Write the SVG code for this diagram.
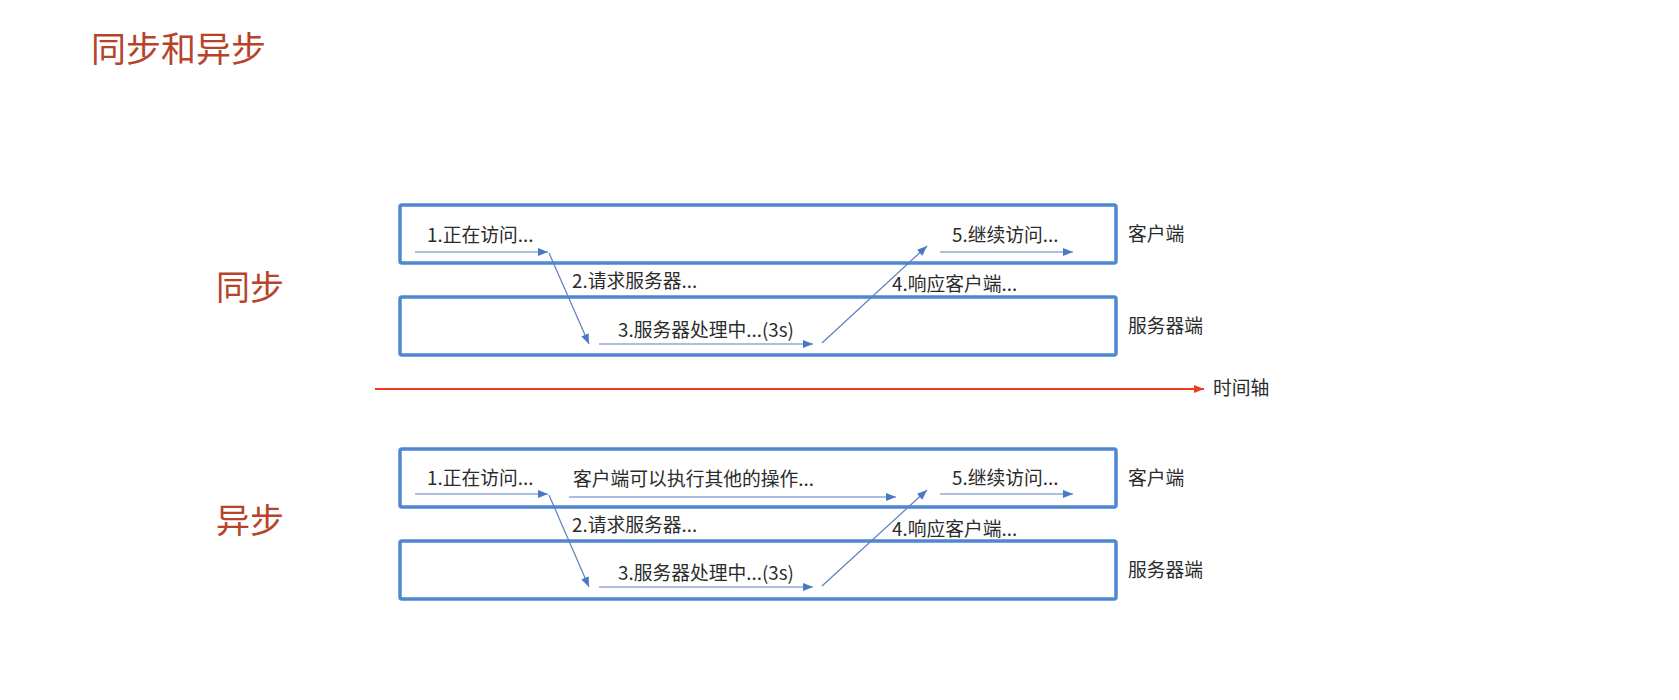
<svg xmlns="http://www.w3.org/2000/svg" width="1679" height="700" viewBox="0 0 1679 700">
<style>
.title{font-family:"Noto Sans CJK SC","Noto Sans",sans-serif;fill:#b8432b;}
.lbl{font-family:"Noto Sans CJK SC","Noto Sans",sans-serif;font-size:18.8px;fill:#2b2b2b;}
.box{fill:none;stroke:#4f87d4;stroke-width:3.5;}
.arr{stroke:#5a7fc0;stroke-width:1.2;fill:none;marker-end:url(#ah);}
</style>
<defs>
<marker id="ah" markerUnits="userSpaceOnUse" markerWidth="12" markerHeight="10" refX="10" refY="4" orient="auto">
<path d="M0,0 L10,4 L0,8 z" fill="#4a78c4"/>
</marker>
<marker id="ahr" markerUnits="userSpaceOnUse" markerWidth="12" markerHeight="10" refX="10" refY="4" orient="auto">
<path d="M0,0 L10,4 L0,8 z" fill="#f03c1e"/>
</marker>
</defs>
<rect width="1679" height="700" fill="#ffffff"/>
<text class="title" x="91" y="62" font-size="35">同步和异步</text>

<g id="sync">
<text class="title" x="216" y="300" font-size="34">同步</text>
<g id="sync-client"><rect class="box" x="400" y="205" width="716" height="58" rx="2"/><text class="lbl" x="1128" y="241">客户端</text></g>
<g id="sync-server"><rect class="box" x="400" y="297" width="716" height="58" rx="2"/><text class="lbl" x="1128" y="333">服务器端</text></g>
<text class="lbl" x="427" y="242">1.正在访问...</text>
<text class="lbl" x="572" y="288">2.请求服务器...</text>
<text class="lbl" x="618" y="337">3.服务器处理中...(3s)</text>
<text class="lbl" x="892" y="291">4.响应客户端...</text>
<text class="lbl" x="952" y="242">5.继续访问...</text>
</g>

<g id="async">
<text class="title" x="216" y="533" font-size="34">异步</text>
<g id="async-client"><rect class="box" x="400" y="449" width="716" height="58" rx="2"/><text class="lbl" x="1128" y="485">客户端</text></g>
<g id="async-server"><rect class="box" x="400" y="541" width="716" height="58" rx="2"/><text class="lbl" x="1128" y="577">服务器端</text></g>
<text class="lbl" x="427" y="485">1.正在访问...</text>
<text class="lbl" x="573" y="486">客户端可以执行其他的操作...</text>
<text class="lbl" x="572" y="532">2.请求服务器...</text>
<text class="lbl" x="618" y="580">3.服务器处理中...(3s)</text>
<text class="lbl" x="892" y="536">4.响应客户端...</text>
<text class="lbl" x="952" y="485">5.继续访问...</text>
</g>

<g id="timeline">
<line x1="375" y1="389" x2="1204" y2="389" stroke="#f03c1e" stroke-width="2" marker-end="url(#ahr)"/>
<text class="lbl" x="1213" y="395">时间轴</text>
</g>

<g id="connectors">
<line class="arr" x1="415" y1="252" x2="548" y2="252"/>
<line class="arr" x1="549" y1="253" x2="589" y2="344"/>
<line class="arr" x1="599" y1="344" x2="813" y2="344"/>
<line class="arr" x1="822" y1="343" x2="927" y2="246"/>
<line class="arr" x1="940" y1="252" x2="1073" y2="252"/>

<line class="arr" x1="415" y1="494" x2="548" y2="494"/>
<line class="arr" x1="549" y1="495" x2="589" y2="587"/>
<line class="arr" x1="569" y1="497" x2="896" y2="497"/>
<line class="arr" x1="599" y1="587" x2="813" y2="587"/>
<line class="arr" x1="822" y1="586" x2="927" y2="490"/>
<line class="arr" x1="940" y1="494" x2="1073" y2="494"/>
</g>
</svg>
